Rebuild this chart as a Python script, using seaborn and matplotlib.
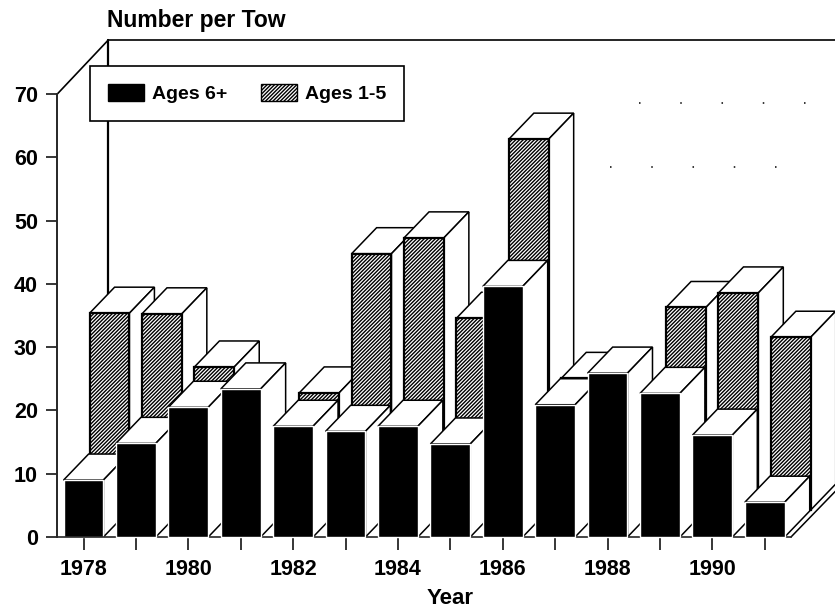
import matplotlib
matplotlib.use("Agg")
import matplotlib.pyplot as plt
from matplotlib.patches import Polygon, Patch
import seaborn as sns

# values
years = [1978, 1979, 1980, 1981, 1982, 1983, 1984, 1985, 1986, 1987, 1988, 1989, 1990, 1991]
ages_6plus = [9, 14.8, 20.5, 23.4, 17.5, 16.7, 17.5, 14.7, 39.6, 20.9, 25.9, 22.7, 16.1, 5.5]
ages_1to5 = [31.1, 31, 22.6, 11, 18.5, 40.5, 43, 30.3, 58.6, 20.8, 15, 32, 34.3, 27.3]
y_ticks = [0, 10, 20, 30, 40, 50, 60, 70]
x_labels = ["1978", "", "1980", "", "1982", "", "1984", "", "1986", "", "1988", "", "1990", ""]

W, H = 835, 607
sns.set_theme(style="white")
plt.rcParams["font.family"] = ["Liberation Sans", "DejaVu Sans"]
plt.rcParams["font.weight"] = "bold"
plt.rcParams["hatch.linewidth"] = 1.0

# pixel box of the front plane
left, right, top, bottom = 57.3, 791.0, 94.0, 537.0
depth_x, depth_y = 26.0, 27.0
bar_dx = 25.0 / ((right - left) / 14)
bar_dy = 26.0 / ((bottom - top) / 70)
hatch_style = "/////////"


def make_axes(fig, off_x, off_y, z):
    a = fig.add_axes([(left + off_x) / W, 1 - (bottom - off_y) / H,
                      (right - left) / W, (bottom - top) / H])
    a.patch.set_alpha(0)
    a.set_zorder(z)
    return a


def add_sides(a, z_base):
    # white top and side of every bar, left to right so the right one covers
    for i, bar in enumerate(a.patches):
        x0, x1 = bar.get_x(), bar.get_x() + bar.get_width()
        h = bar.get_height()
        z = z_base + i
        bar.set_zorder(z + 0.5)
        a.add_patch(Polygon([(x0, h), (x1, h), (x1 + bar_dx, h + bar_dy), (x0 + bar_dx, h + bar_dy)],
                            closed=True, fc="white", ec="black", lw=1.1, zorder=z, clip_on=False))
        a.add_patch(Polygon([(x1, 0), (x1, h), (x1 + bar_dx, h + bar_dy), (x1 + bar_dx, bar_dy)],
                            closed=True, fc="white", ec="black", lw=1.1, zorder=z, clip_on=False))
        bar.set_clip_on(False)


fig = plt.figure(figsize=(W / 100, H / 100), dpi=100)

# back wall with what is left of its gridlines
wall = make_axes(fig, 0, 0, 1)
wall.set_xlim(-0.5, 13.5)
wall.set_ylim(0, 70)
wall.axis("off")
wall_x = -0.5 + 51 / ((right - left) / 14)
wall_up = 54 / ((bottom - top) / 70)
wall.plot([-0.5, wall_x], [70, 70 + wall_up], color="black", lw=1.2, clip_on=False)
wall.plot([wall_x, wall_x], [wall_up, 70 + wall_up], color="black", lw=1.6, clip_on=False)
wall.plot([wall_x, 15], [70 + wall_up, 70 + wall_up], color="black", lw=1.2, clip_on=False)
wall.plot([13.5, 14.5], [0, wall_up], color="black", lw=1.1, clip_on=False)
wall.plot([10.6, 13.9], [60 + wall_up, 60 + wall_up], color="black", lw=1.1, ls=(0, (1, 26)), clip_on=False)
wall.plot([10.05, 13.9], [50 + wall_up, 50 + wall_up], color="black", lw=1.1, ls=(0, (1, 26)), clip_on=False)

# back row
ax_back = make_axes(fig, depth_x, depth_y, 2)
sns.barplot(x=years, y=ages_1to5, color="white", width=0.76, saturation=1, ax=ax_back)
ax_back.set_xlim(-0.5, 13.5)
ax_back.set_ylim(0, 70)
ax_back.axis("off")
for bar in ax_back.patches:
    bar.set_facecolor("white")
    bar.set_edgecolor("black")
    bar.set_hatch(hatch_style)
    bar.set_linewidth(1.6)
add_sides(ax_back, 2)

# front row
ax = make_axes(fig, 0, 0, 3)
sns.barplot(x=years, y=ages_6plus, color="black", width=0.76, saturation=1, ax=ax)
ax.set_xlim(-0.5, 13.5)
ax.set_ylim(0, 70)
add_sides(ax, 2)

for s in ["top", "right"]:
    ax.spines[s].set_visible(False)
ax.spines["left"].set_linewidth(1.4)
ax.spines["bottom"].set_linewidth(1.2)
ax.set_yticks(y_ticks)
ax.set_xticks(range(len(years)))
ax.set_xticklabels(x_labels)
ax.tick_params(axis="both", length=9, width=1.1, color="black", labelsize=15.5, labelcolor="black", left=True, bottom=True)
ax.tick_params(axis="y", pad=6, length=8)
ax.tick_params(axis="x", pad=7)
ax.set_xlabel("")
ax.set_ylabel("")
fig.text(450 / W, 1 - 598 / H, "Year", fontsize=16, fontweight="bold",
         color="black", ha="center", va="center")
fig.text(107 / W, 1 - 20 / H, "Number per Tow", fontsize=16.5, fontweight="bold",
         color="black", ha="left", va="center")

handles = [Patch(fc="black", ec="black", label="Ages 6+"),
           Patch(fc="white", ec="black", hatch=hatch_style, label="Ages 1-5")]
leg = ax.legend(handles=handles, ncol=2, loc="upper left", frameon=True, fancybox=False,
                framealpha=1, edgecolor="black", fontsize=14, handlelength=1.85, handleheight=0.98,
                handletextpad=0.4, columnspacing=1.75, borderpad=0.93, borderaxespad=0,
                bbox_to_anchor=((90 - left) / (right - left), 1 + (94 - 66) / (bottom - top)))
leg.get_frame().set_linewidth(1.2)
leg.set_zorder(100)
for t in leg.get_texts():
    t.set_color("black")

fig.savefig("out.png", dpi=100)
